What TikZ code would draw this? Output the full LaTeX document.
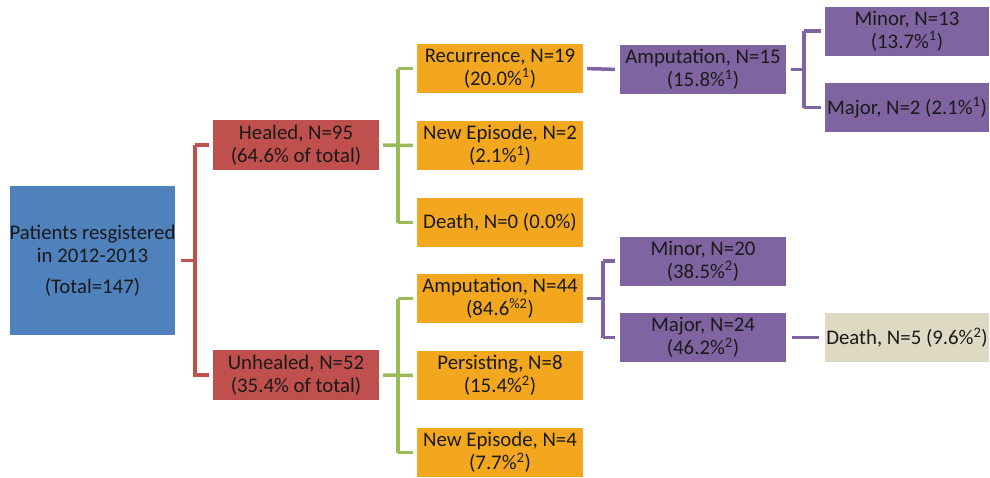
\documentclass[tikz,border=0pt]{standalone}
\usepackage{fontspec}
\setmainfont{Carlito}
\definecolor{cblue}{HTML}{4F81BD}
\definecolor{cred}{HTML}{C0504D}
\definecolor{corange}{HTML}{F2A71E}
\definecolor{cpurple}{HTML}{8064A2}
\definecolor{cgreen}{HTML}{9BBB59}
\definecolor{ctan}{HTML}{DDD9C3}
\definecolor{ctext}{HTML}{1A1A1A}
\tikzset{
  bx/.style={minimum width=#1, inner sep=0pt, align=center, text=ctext,
    font=\fontsize{20.8}{23}\selectfont, anchor=center},
  bluebox/.style={bx=165pt, fill=cblue, minimum height=149pt},
  redbox/.style={bx=166pt, fill=cred, minimum height=50pt},
  orbox/.style={bx=166pt, fill=corange, minimum height=49pt},
  pubox/.style={bx=166pt, fill=cpurple, minimum height=49pt},
  pubox2/.style={bx=164pt, fill=cpurple, minimum height=49pt},
  tanbox/.style={bx=164pt, fill=ctan, minimum height=49pt},
  redline/.style={draw=cred, line width=3.5pt},
  grline/.style={draw=cgreen, line width=3.5pt},
  puline/.style={draw=cpurple, line width=3.5pt},
}
\begin{document}
\begin{tikzpicture}[x=1pt,y=-1pt]
\path[use as bounding box, fill=white] (0,0) rectangle (990,477);
% nodes
\node[bluebox] (pat) at (92.5,260.5) {Patients resgistered\\in 2012-2013\\[8pt](Total=147)};
\node[redbox] (heal) at (296,145) {Healed, N=95\\(64.6\% of total)};
\node[redbox] (unheal) at (296,375) {Unhealed, N=52\\(35.4\% of total)};
\node[orbox] (rec) at (500,68.5) {Recurrence, N=19\\(20.0\%\textsuperscript{1})};
\node[orbox] (newa) at (500,145.5) {New Episode, N=2\\(2.1\%\textsuperscript{1})};
\node[orbox] (deatha) at (500,222.5) {Death, N=0 (0.0\%)};
\node[orbox] (amp44) at (500,298.5) {Amputation, N=44\\(84.6\textsuperscript{\%2})};
\node[orbox] (pers) at (500,375.5) {Persisting, N=8\\(15.4\%\textsuperscript{2})};
\node[orbox] (newb) at (500,452.5) {New Episode, N=4\\(7.7\%\textsuperscript{2})};
\node[pubox] (amp15) at (703,69.5) {Amputation, N=15\\(15.8\%\textsuperscript{1})};
\node[pubox2] (min13) at (907,31) {Minor, N=13\\(13.7\%\textsuperscript{1})};
\node[pubox2] (maj2) at (907,107.5) {Major, N=2 (2.1\%\textsuperscript{1})};
\node[pubox] (min20) at (703,261) {Minor, N=20\\(38.5\%\textsuperscript{2})};
\node[pubox] (maj24) at (703,337.5) {Major, N=24\\(46.2\%\textsuperscript{2})};
\node[tanbox] (death5) at (907,337.5) {Death, N=5 (9.6\%\textsuperscript{2})};
% bracket coordinates
\coordinate (rx) at (195,0);
\coordinate (gx) at (398,0);
\coordinate (px1) at (804,0);
\coordinate (px2) at (603,0);
% red bracket
\draw[redline, shorten <=5pt] (pat.east) -- (pat.east -| rx);
\draw[redline, shorten >=4pt] ([xshift=-18pt]heal.west) -- (heal.west);
\draw[redline, shorten >=4pt, line join=miter] (heal.west -| rx) -- (unheal.west -| rx) -- (unheal.west);
% green upper
\draw[grline, shorten <=4pt, shorten >=4pt] (heal.east) -- (newa.west);
\draw[grline, shorten >=4pt] (rec.west -| gx) -- (rec.west);
\draw[grline] (rec.west -| gx) -- (deatha.west -| gx);
\draw[grline, shorten >=4pt] (deatha.west -| gx) -- (deatha.west);
% green lower
\draw[grline, shorten <=4pt, shorten >=4pt] (unheal.east) -- (pers.west);
\draw[grline, shorten >=4pt] (amp44.west -| gx) -- (amp44.west);
\draw[grline] (amp44.west -| gx) -- (newb.west -| gx);
\draw[grline, shorten >=4pt] (newb.west -| gx) -- (newb.west);
% purple upper
\draw[puline, shorten <=4pt, shorten >=5pt] (rec.east) -- (amp15.west);
\draw[puline, shorten <=5pt] (amp15.east) -- (amp15.east -| px1);
\draw[puline, shorten >=4pt] (min13.west -| px1) -- (min13.west);
\draw[puline] (min13.west -| px1) -- (maj2.west -| px1);
\draw[puline, shorten >=4pt] (maj2.west -| px1) -- (maj2.west);
% purple lower
\draw[puline, shorten <=4pt] (amp44.east) -- (amp44.east -| px2);
\draw[puline, shorten >=5pt] (min20.west -| px2) -- (min20.west);
\draw[puline] (min20.west -| px2) -- (maj24.west -| px2);
\draw[puline, shorten >=5pt] (maj24.west -| px2) -- (maj24.west);
\draw[puline, shorten <=6pt, shorten >=6pt] (maj24.east) -- (death5.west);
\end{tikzpicture}
\end{document}
